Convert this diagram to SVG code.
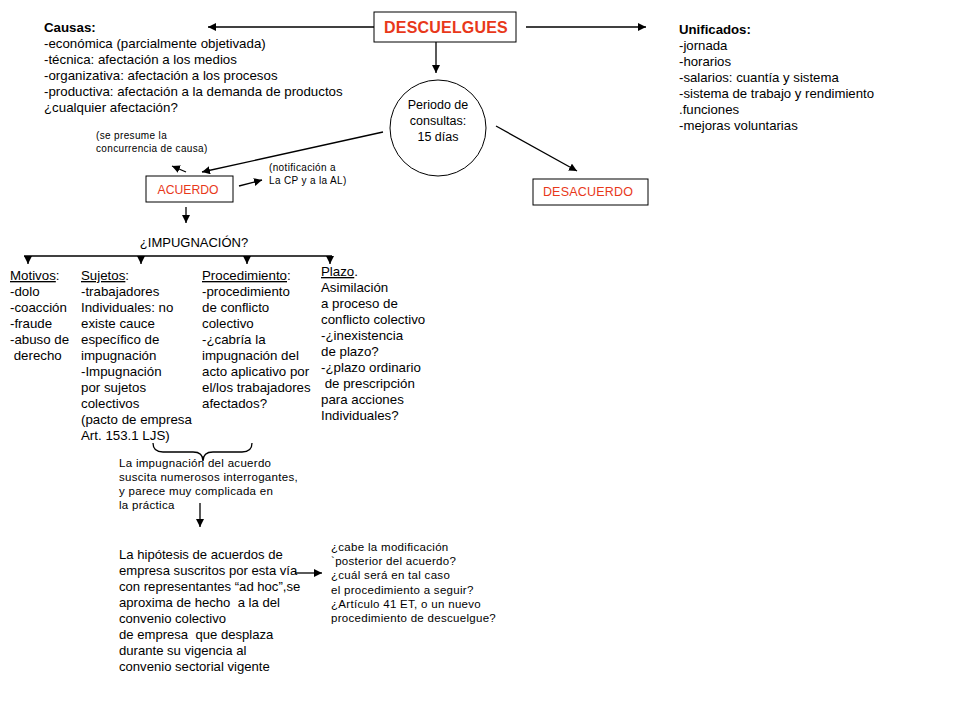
<svg xmlns="http://www.w3.org/2000/svg" width="960" height="720" viewBox="0 0 960 720">
<style>
text{font-family:"Liberation Sans",Arial,sans-serif;fill:#000}
.t{font-size:13.3px}
.u{font-size:13.2px}
.k{font-size:12.5px}
.c{font-size:13.3px}
.h{font-size:13.1px}
.s{font-size:10px;letter-spacing:0.35px}
.m{font-size:11.5px;letter-spacing:0.3px}
.n{font-size:11.5px;letter-spacing:0.3px}
.b{font-weight:bold}
.red{fill:#e8381a}
.box{fill:#fff;stroke:#000;stroke-width:1}
.ln{stroke:#000;stroke-width:1.3;fill:none}
</style>
<defs>
<marker id="ah" viewBox="0 0 10 10" refX="10" refY="5" markerWidth="8" markerHeight="8" markerUnits="userSpaceOnUse" orient="auto">
<path d="M0,0 L10,5 L0,10 z" fill="#000"/>
</marker>
</defs>
<rect width="960" height="720" fill="#fff"/>

<g id="connectors">
<line class="ln" x1="374" y1="27" x2="208" y2="27" marker-end="url(#ah)"/>
<line class="ln" x1="526" y1="27" x2="646" y2="27" marker-end="url(#ah)"/>
<line class="ln" x1="436" y1="42" x2="436" y2="73" marker-end="url(#ah)"/>
<line class="ln" x1="496" y1="126" x2="577" y2="171" marker-end="url(#ah)"/>
<line class="ln" x1="383" y1="132" x2="202" y2="172" marker-end="url(#ah)"/>
<line class="ln" x1="186" y1="172" x2="172" y2="166" marker-end="url(#ah)"/>
<line class="ln" x1="239" y1="186" x2="262" y2="180" marker-end="url(#ah)"/>
<line class="ln" x1="186" y1="207" x2="186" y2="223" marker-end="url(#ah)"/>
<line class="ln" x1="24" y1="256" x2="332" y2="256"/>
<line class="ln" x1="28" y1="256" x2="28" y2="264" marker-end="url(#ah)"/>
<line class="ln" x1="141" y1="256" x2="141" y2="264" marker-end="url(#ah)"/>
<line class="ln" x1="247" y1="256" x2="247" y2="264" marker-end="url(#ah)"/>
<line class="ln" x1="330" y1="256" x2="330" y2="264" marker-end="url(#ah)"/>
<path class="ln" stroke-width="1" d="M153,443 Q153,452 163,452 L193,452 Q203,452 203,461 Q203,452 213,452 L242,452 Q252,452 252,443"/>
<line class="ln" x1="200" y1="503" x2="200" y2="527" marker-end="url(#ah)"/>
<line class="ln" x1="295" y1="573" x2="322" y2="573" marker-end="url(#ah)"/>
</g>

<g id="descuelgues">
<rect class="box" x="374" y="12" width="142" height="30"/>
<text class="red b" x="446" y="33" font-size="16" letter-spacing="0.2" text-anchor="middle">DESCUELGUES</text>
</g>

<g id="causas">
<text class="t" x="44" y="32"><tspan class="b">Causas:</tspan>
<tspan x="44" dy="16">-económica (parcialmente objetivada)</tspan>
<tspan x="44" dy="16">-técnica: afectación a los medios</tspan>
<tspan x="44" dy="16">-organizativa: afectación a los procesos</tspan>
<tspan x="44" dy="16">-productiva: afectación a la demanda de productos</tspan>
<tspan x="44" dy="16">¿cualquier afectación?</tspan></text>
</g>

<g id="unificados">
<text class="u" x="679" y="34"><tspan class="b">Unificados:</tspan>
<tspan x="679" dy="16">-jornada</tspan>
<tspan x="679" dy="16">-horarios</tspan>
<tspan x="679" dy="16">-salarios: cuantía y sistema</tspan>
<tspan x="679" dy="16">-sistema de trabajo y rendimiento</tspan>
<tspan x="679" dy="16">.funciones</tspan>
<tspan x="679" dy="16">-mejoras voluntarias</tspan></text>
</g>

<g id="periodo">
<circle cx="438" cy="128" r="48" fill="#fff" stroke="#000" stroke-width="1"/>
<text class="k" x="438" y="109" text-anchor="middle">Periodo de<tspan x="438" dy="16">consultas:</tspan><tspan x="438" dy="16">15 días</tspan></text>
</g>

<g id="desacuerdo">
<rect class="box" x="533" y="179" width="115" height="26"/>
<text class="red" x="588" y="196" font-size="12.5" letter-spacing="0.2" text-anchor="middle">DESACUERDO</text>
</g>

<g id="acuerdo">
<rect class="box" x="146" y="176" width="87" height="26"/>
<text class="red" x="188" y="194" font-size="12.2" text-anchor="middle">ACUERDO</text>
</g>

<g id="presume">
<text class="s" x="96" y="139">(se presume la<tspan x="96" dy="13">concurrencia de causa)</tspan></text>
</g>

<g id="notificacion">
<text class="s" x="269" y="171">(notificación a<tspan x="269" dy="13">La CP y a la AL)</tspan></text>
</g>

<g id="impugnacion">
<text x="194" y="247" font-size="13" text-anchor="middle">¿IMPUGNACIÓN?</text>
</g>

<g id="motivos">
<text class="c" x="10" y="280"><tspan text-decoration="underline">Motivos</tspan>:
<tspan x="10" dy="16">-dolo</tspan>
<tspan x="10" dy="16">-coacción</tspan>
<tspan x="10" dy="16">-fraude</tspan>
<tspan x="10" dy="16">-abuso de</tspan>
<tspan x="10" dy="16" xml:space="preserve"> derecho</tspan></text>
</g>

<g id="sujetos">
<text class="c" x="81" y="280"><tspan text-decoration="underline">Sujetos</tspan>:
<tspan x="81" dy="16">-trabajadores</tspan>
<tspan x="81" dy="16">Individuales: no</tspan>
<tspan x="81" dy="16">existe cauce</tspan>
<tspan x="81" dy="16">específico de</tspan>
<tspan x="81" dy="16">impugnación</tspan>
<tspan x="81" dy="16">-Impugnación</tspan>
<tspan x="81" dy="16">por sujetos</tspan>
<tspan x="81" dy="16">colectivos</tspan>
<tspan x="81" dy="16">(pacto de empresa</tspan>
<tspan x="81" dy="16">Art. 153.1 LJS)</tspan></text>
</g>

<g id="procedimiento">
<text class="c" x="202" y="280"><tspan text-decoration="underline">Procedimiento</tspan>:
<tspan x="202" dy="16">-procedimiento</tspan>
<tspan x="202" dy="16">de conflicto</tspan>
<tspan x="202" dy="16">colectivo</tspan>
<tspan x="202" dy="16">-¿cabría la</tspan>
<tspan x="202" dy="16">impugnación del</tspan>
<tspan x="202" dy="16">acto aplicativo por</tspan>
<tspan x="202" dy="16">el/los trabajadores</tspan>
<tspan x="202" dy="16">afectados?</tspan></text>
</g>

<g id="plazo">
<text class="c" x="321" y="276"><tspan text-decoration="underline">Plazo</tspan>.
<tspan x="321" dy="16">Asimilación</tspan>
<tspan x="321" dy="16">a proceso de</tspan>
<tspan x="321" dy="16">conflicto colectivo</tspan>
<tspan x="321" dy="16">-¿inexistencia</tspan>
<tspan x="321" dy="16">de plazo?</tspan>
<tspan x="321" dy="16">-¿plazo ordinario</tspan>
<tspan x="321" dy="16" xml:space="preserve"> de prescripción</tspan>
<tspan x="321" dy="16">para acciones</tspan>
<tspan x="321" dy="16">Individuales?</tspan></text>
</g>

<g id="interrogantes">
<text class="n" x="119" y="467">La impugnación del acuerdo<tspan x="119" dy="14">suscita numerosos interrogantes,</tspan><tspan x="119" dy="14">y parece muy complicada en</tspan><tspan x="119" dy="14">la práctica</tspan></text>
</g>

<g id="hipotesis">
<text class="h" x="119" y="559">La hipótesis de acuerdos de
<tspan x="119" dy="16">empresa suscritos por esta vía</tspan>
<tspan x="119" dy="16">con representantes “ad hoc”,se</tspan>
<tspan x="119" dy="16" xml:space="preserve">aproxima de hecho  a la del</tspan>
<tspan x="119" dy="16">convenio colectivo</tspan>
<tspan x="119" dy="16" xml:space="preserve">de empresa  que desplaza</tspan>
<tspan x="119" dy="16">durante su vigencia al</tspan>
<tspan x="119" dy="16">convenio sectorial vigente</tspan></text>
</g>

<g id="modificacion">
<text class="m" x="331" y="551">¿cabe la modificación
<tspan x="331" dy="14.2">`posterior del acuerdo?</tspan>
<tspan x="331" dy="14.2">¿cuál será en tal caso</tspan>
<tspan x="331" dy="14.2">el procedimiento a seguir?</tspan>
<tspan x="331" dy="14.2">¿Artículo 41 ET, o un nuevo</tspan>
<tspan x="331" dy="14.2">procedimiento de descuelgue?</tspan></text>
</g>
</svg>
